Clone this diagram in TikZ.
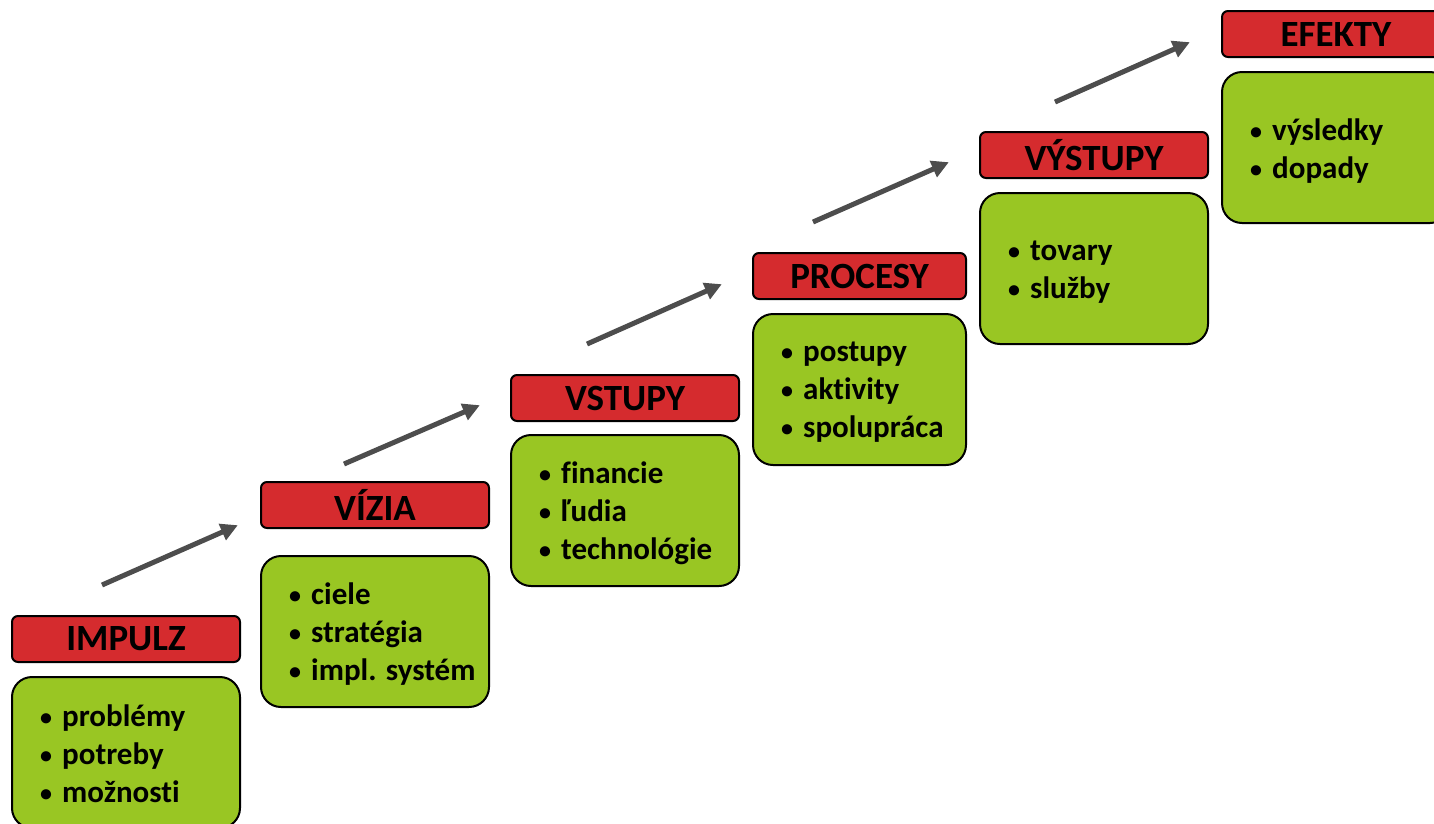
\documentclass[tikz,border=0pt]{standalone}
\usepackage{fontspec}
\setmainfont[Ligatures={NoCommon}]{Carlito}
\usetikzlibrary{arrows.meta}
\definecolor{tred}{RGB}{213,43,46}
\definecolor{tgreen}{RGB}{153,198,35}
\definecolor{tarrow}{RGB}{77,77,77}
\tikzset{
  titlebox/.style={draw=black, line width=2pt, fill=tred, rounded corners=6pt,
    anchor=north west, minimum width=#1, minimum height=46pt, inner sep=0pt,
    font=\fontsize{37}{42}\selectfont\bfseries},
  itembox/.style={draw=black, line width=2pt, fill=tgreen, rounded corners=20pt,
    anchor=north west, minimum width=#1, minimum height=151pt, inner sep=0pt},
  items/.style={anchor=west, align=left, inner sep=0pt,
    font=\fontsize{31}{38}\selectfont\bfseries},
  stepar/.style={draw=tarrow, line width=5pt, -{Triangle[length=17pt,width=17pt]}, shorten >=-2pt}
}
\newcommand{\bul}[1]{\makebox[22pt][l]{\raisebox{1pt}{\fontsize{24}{24}\selectfont•}}#1}
\begin{document}
\begin{tikzpicture}[x=1pt,y=-1pt]
\useasboundingbox (0,0) rectangle (1434,823);
% IMPULZ
\node[titlebox=228pt] (t1) at (11,615) {IMPULZ};
\node[itembox=228pt] (b1) at (11,676) {};
\node[items] (i1) at ([xshift=29pt,yshift=-1pt]b1.west) {\bul{problémy}\\\bul{potreby}\\\bul{možnosti}};
% VIZIA
\node[titlebox=228pt] (t2) at (260,481) {VÍZIA};
\node[itembox=228pt] (b2) at (260,555) {};
\node[items] (i2) at ([xshift=29pt,yshift=-3pt]b2.west) {\bul{ciele}\\\bul{stratégia}\\\bul{impl. systém}};
% VSTUPY
\node[titlebox=228pt] (t3) at (510,374) {VSTUPY};
\node[itembox=228pt] (b3) at (510,434) {};
\node[items] (i3) at ([xshift=29pt,yshift=-3pt]b3.west) {\bul{financie}\\\bul{ľudia}\\\bul{technológie}};
% PROCESY
\node[titlebox=213pt] (t4) at (752,252) {PROCESY};
\node[itembox=213pt] (b4) at (752,313) {};
\node[items] (i4) at ([xshift=29pt,yshift=-3pt]b4.west) {\bul{postupy}\\\bul{aktivity}\\\bul{spolupráca}};
% VYSTUPY
\node[titlebox=228pt] (t5) at (979,131) {VÝSTUPY};
\node[itembox=228pt] (b5) at (979,192) {};
\node[items] (i5) at ([xshift=29pt,yshift=-4pt]b5.west) {\bul{tovary}\\\bul{služby}};
% EFEKTY
\node[titlebox=228pt] (t6) at (1221,10) {EFEKTY};
\node[itembox=228pt] (b6) at (1221,71) {};
\node[items] (i6) at ([xshift=29pt,yshift=-4pt]b6.west) {\bul{výsledky}\\\bul{dopady}};
% arrows
\coordinate (a1s) at (102,585); \coordinate (a1e) at (236,526);
\coordinate (a2s) at (344,464); \coordinate (a2e) at (478,406);
\coordinate (a3s) at (587,344); \coordinate (a3e) at (720,285);
\coordinate (a4s) at (813,222); \coordinate (a4e) at (947,163);
\coordinate (a5s) at (1055,102); \coordinate (a5e) at (1188,43);
\draw[stepar] (a1s) -- (a1e);
\draw[stepar] (a2s) -- (a2e);
\draw[stepar] (a3s) -- (a3e);
\draw[stepar] (a4s) -- (a4e);
\draw[stepar] (a5s) -- (a5e);
\end{tikzpicture}
\end{document}
